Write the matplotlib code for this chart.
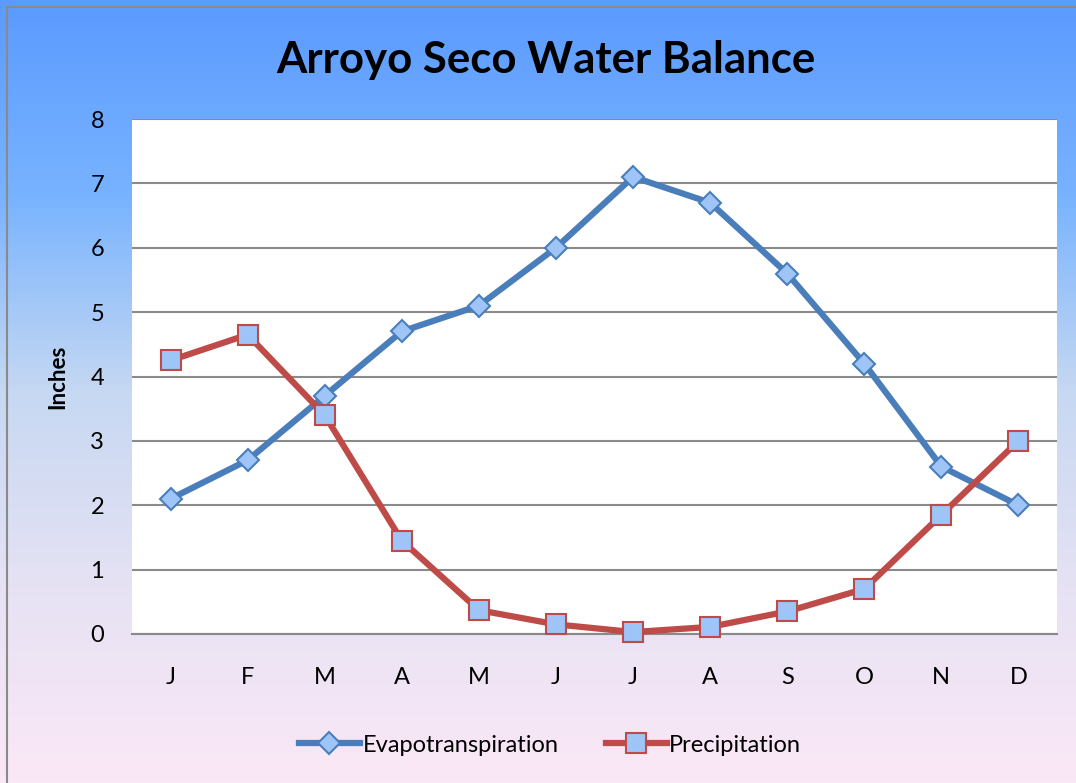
import matplotlib.pyplot as plt
import numpy as np
from matplotlib.colors import LinearSegmentedColormap
from matplotlib.patches import Rectangle

months = ['J', 'F', 'M', 'A', 'M', 'J', 'J', 'A', 'S', 'O', 'N', 'D']
evapotranspiration = [2.1, 2.7, 3.7, 4.7, 5.1, 6.0, 7.1, 6.7, 5.6, 4.2, 2.6, 2.0]
precipitation = [4.25, 4.65, 3.4, 1.45, 0.37, 0.15, 0.03, 0.11, 0.35, 0.7, 1.85, 3.0]

plt.rcParams['font.family'] = ['Lato', 'DejaVu Sans']

fig = plt.figure(figsize=(10.76, 7.83), dpi=100)

# gradient background for the chart area
bg = fig.add_axes([0, 0, 1, 1], zorder=0)
cmap = LinearSegmentedColormap.from_list('bg', ['#5b9aff', '#78b3ff', '#c6d8f2', '#e6e2f4', '#fbe8f6'])
grad = np.linspace(0, 1, 256).reshape(-1, 1)
bg.imshow(grad, aspect='auto', cmap=cmap, extent=[0, 1, 0, 1], origin='upper')
bg.add_patch(Rectangle((7 / 1076, -0.01), 1.1, (783 - 7) / 783 + 0.01, fill=False,
                       edgecolor='#8a8a8a', linewidth=1.5, transform=bg.transAxes))
bg.set_xlim(0, 1)
bg.set_ylim(0, 1)
bg.axis('off')

ax = fig.add_axes([132 / 1076, 1 - 634 / 783, (1057 - 132) / 1076, (634 - 119) / 783], zorder=1)
ax.set_facecolor('white')
x = np.arange(len(months))

ax.plot(x, evapotranspiration, color='#4a7ebb', linewidth=4.5, marker='D', markersize=11,
        markerfacecolor='#9ec4f8', markeredgecolor='#4a7ebb', markeredgewidth=1.5,
        label='Evapotranspiration', zorder=3, clip_on=False)
ax.plot(x, precipitation, color='#be4b48', linewidth=4.5, marker='s', markersize=15,
        markerfacecolor='#9ec4f8', markeredgecolor='#be4b48', markeredgewidth=1.5,
        label='Precipitation', zorder=3, clip_on=False)

ax.set_xlim(-0.5, 11.5)
ax.set_ylim(0, 8)
ax.set_yticks(range(0, 9))
ax.set_xticks(x)
ax.set_xticklabels(months)
ax.tick_params(axis='both', length=0, labelsize=17)
ax.tick_params(axis='x', pad=24)
ax.tick_params(axis='y', pad=20)
ax.grid(True, axis='y', color='#8a8a8a', linewidth=1.5)
ax.set_axisbelow(True)
for side in ['left', 'right', 'top']:
    ax.spines[side].set_visible(False)
ax.spines['bottom'].set_color('#8a8a8a')
ax.spines['bottom'].set_linewidth(1.5)

ax.set_ylabel('Inches', fontsize=16, fontweight='bold', labelpad=16)

fig.text(546 / 1076, 1 - 60 / 783, 'Arroyo Seco Water Balance', fontsize=31.5,
         fontweight='bold', ha='center', va='center')

fig.legend(loc='center', bbox_to_anchor=(550 / 1076, 1 - 745 / 783), ncol=2,
           frameon=False, fontsize=17, handlelength=2.6, columnspacing=2.0,
           handletextpad=0.1)

fig.savefig('out.png', dpi=100)
